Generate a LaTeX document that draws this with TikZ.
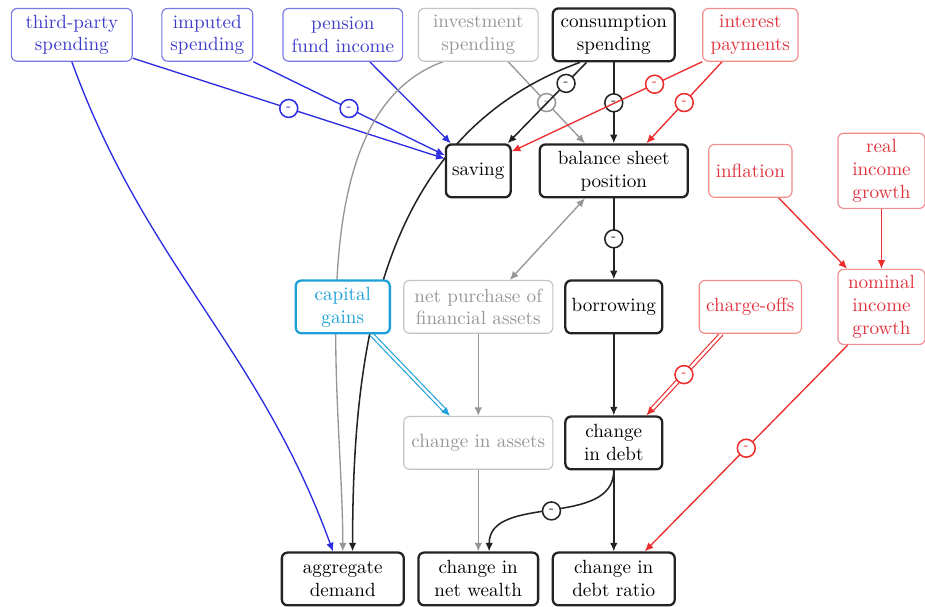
\documentclass[tikz,border=0pt]{standalone}
\usepackage{amsmath,amssymb}
\usepackage{tikz}
\usetikzlibrary{arrows, arrows.meta, calc, backgrounds}

\definecolor{lineblue}{RGB}{45,45,225}
\definecolor{boxblue}{RGB}{120,120,225}
\definecolor{textblue}{RGB}{60,60,200}
\definecolor{linered}{RGB}{235,45,45}
\definecolor{boxred}{RGB}{240,140,140}
\definecolor{textred}{RGB}{225,50,60}
\definecolor{linegray}{RGB}{150,150,150}
\definecolor{boxgray}{RGB}{195,195,195}
\definecolor{textgray}{RGB}{150,150,150}
\definecolor{linecyan}{RGB}{30,160,215}
\definecolor{lineblack}{RGB}{35,35,35}

\begin{document}
\begin{tikzpicture}[>={Latex[length=4.5pt,width=4pt]},
        basebox/.style={rectangle, rounded corners=3pt, fill=white, align=center, inner sep=3pt, minimum height=0.97cm},
        blackbox/.style={basebox, draw=lineblack, line width=1.2pt, text=black},
        bluebox/.style={basebox, draw=boxblue, line width=0.6pt, text=textblue},
        graybox/.style={basebox, draw=boxgray, line width=0.6pt, text=textgray},
        redbox/.style={basebox, draw=boxred, line width=0.6pt, text=textred},
        cyanbox/.style={basebox, draw=linecyan, line width=1.2pt, text=linecyan},
        blackline/.style={->, lineblack, line width=0.8pt},
        blueline/.style={->, lineblue, line width=0.7pt},
        grayline/.style={->, linegray, line width=0.7pt},
        redline/.style={->, linered, line width=0.7pt},
        cyanline/.style={->, draw=linecyan, double=white, double distance=1.3pt, line width=0.6pt},
        doublered/.style={->, draw=linered, double=white, double distance=1.3pt, line width=0.6pt},
        negsign/.style={circle, draw, fill=white, inner sep=0pt, minimum size=0.33cm, line width=0.8pt, font=\scriptsize}]
        \useasboundingbox (-1.32,0.64) rectangle (15.68,-10.51);

        \node[bluebox, minimum width=2.22cm] (third) at (0,0) {third-party\\spending};
        \node[bluebox, minimum width=1.67cm] (imputed) at (2.49,0) {imputed\\spending};
        \node[bluebox, minimum width=2.2cm] (pension) at (4.98,0) {pension\\fund income};
        \node[graybox, minimum width=2.2cm] (invest) at (7.47,0) {investment\\spending};
        \node[blackbox, minimum width=2.24cm] (consum) at (9.96,0) {consumption\\spending};
        \node[redbox, minimum width=1.75cm] (interest) at (12.47,0) {interest\\payments};

        \node[blackbox, minimum width=1.19cm] (saving) at (7.47,-2.5) {saving};
        \node[blackbox, minimum width=2.72cm] (balance) at (9.96,-2.5) {balance sheet\\position};
        \node[redbox, minimum width=1.53cm] (inflation) at (12.47,-2.5) {inflation};
        \node[redbox, minimum width=1.6cm, minimum height=1.38cm] (realinc) at (14.88,-2.5) {real\\income\\growth};

        \node[cyanbox, minimum width=1.73cm] (capgains) at (4.98,-5) {capital\\gains};
        \node[graybox, minimum width=2.74cm] (netpurch) at (7.47,-5) {net purchase of\\financial assets};
        \node[blackbox, minimum width=1.78cm] (borrow) at (9.96,-5) {borrowing};
        \node[redbox, minimum width=1.88cm] (chargeoff) at (12.47,-5) {charge-offs};
        \node[redbox, minimum width=1.6cm, minimum height=1.38cm] (nominal) at (14.88,-5) {nominal\\income\\growth};

        \node[graybox, minimum width=2.74cm] (chassets) at (7.47,-7.5) {change in assets};
        \node[blackbox, minimum width=1.78cm] (chdebt) at (9.96,-7.5) {change\\in debt};

        \node[blackbox, minimum width=2.24cm] (aggdem) at (4.98,-10) {aggregate\\demand};
        \node[blackbox, minimum width=2.2cm] (chwealth) at (7.47,-10) {change in\\net wealth};
        \node[blackbox, minimum width=2.24cm] (chratio) at (9.96,-10) {change in\\debt ratio};

        \begin{pgfonlayer}{background}
        \draw[blueline] (third.-21) -- node[negsign, pos=0.5] {-} (saving.160);
        \draw[blueline] (imputed.south east) -- node[negsign, pos=0.5] {-} (saving.155);
        \draw[blueline] (pension.-45) -- (saving.135);
        \draw[blueline] (third.south) to[out=-70, in=110] ([xshift=-0.18cm]aggdem.north);

        \draw[grayline] ([xshift=0.55cm]invest.south) -- node[negsign, pos=0.5] {-} ([xshift=-0.53cm]balance.north);
        \draw[grayline] ([xshift=-0.65cm]invest.south) to[out=200, in=90, looseness=0.8] (aggdem.north);

        \draw[blackline] ([xshift=-0.5cm]consum.south) -- node[negsign, pos=0.26] {-} ([xshift=0.54cm]saving.north);
        \draw[blackline] (consum) -- node[negsign] {-} (balance);
        \draw[blackline] ([xshift=-0.62cm]consum.south) to[out=200, in=90] ([xshift=0.18cm]aggdem.north);

        \draw[redline] (interest.south west) -- node[negsign, pos=0.25] {-} (saving.30);
        \draw[redline] ([xshift=-0.52cm]interest.south) -- node[negsign, pos=0.5] {-} ([xshift=0.6cm]balance.north);

        \draw[blackline] (balance) -- node[negsign] {-} (borrow);
        \draw[grayline, <->] ([xshift=0.58cm]netpurch.north) -- ([xshift=-0.53cm]balance.south);
        \draw[grayline] (netpurch) -- (chassets);
        \draw[cyanline] ([xshift=0.53cm]capgains.south) -- ([xshift=-0.52cm]chassets.north);
        \draw[blackline] (borrow) -- (chdebt);

        \draw[doublered] ([xshift=-0.53cm]chargeoff.south) -- ([xshift=0.6cm]chdebt.north);
        \path[linered] ([xshift=-0.53cm]chargeoff.south) -- node[negsign] {-} ([xshift=0.6cm]chdebt.north);
        \draw[redline] ([xshift=0.52cm]inflation.south) -- ([xshift=-0.63cm]nominal.north);
        \draw[redline] (realinc) -- (nominal);
        \draw[redline] ([xshift=-0.62cm]nominal.south) -- node[negsign, pos=0.5] {-} ([xshift=0.57cm]chratio.north);

        \draw[blackline] (chdebt.south) to[out=-90, in=90] node[negsign, pos=0.5] {-} ([xshift=0.2cm]chwealth.north);
        \draw[blackline] (chdebt) -- (chratio);
        \draw[grayline] (chassets) -- (chwealth);
        \end{pgfonlayer}

    \end{tikzpicture}
\end{document}
